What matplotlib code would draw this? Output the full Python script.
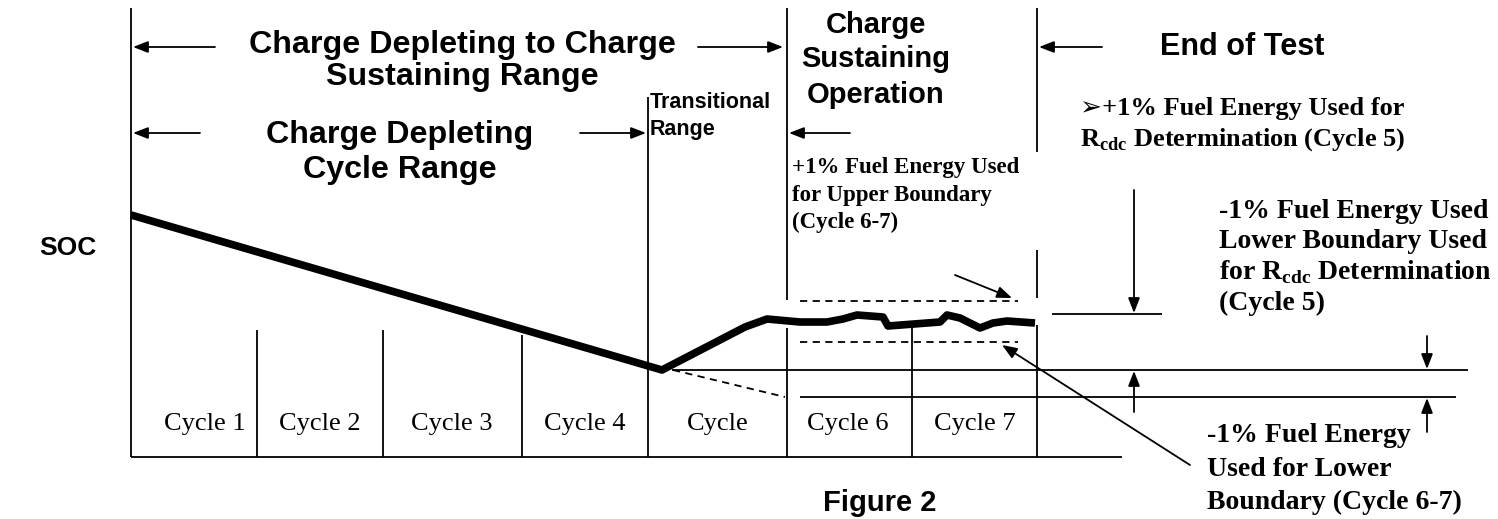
import matplotlib
matplotlib.use("Agg")
import matplotlib.pyplot as plt

# SOC trace (diagram units, y grows downward like the page)
soc_x = [131, 662, 745, 767, 800, 827, 843, 857, 883, 888, 940, 947, 960, 980, 993, 1007, 1035]
soc_y = [215, 370, 327, 319, 322, 322, 319, 315, 317, 326, 322, 315, 318, 328, 323, 321, 323]

cycle_labels = ["Cycle 1", "Cycle 2", "Cycle 3", "Cycle 4", "Cycle", "Cycle 6", "Cycle 7"]
cycle_centers = [205, 320, 452, 585, 718, 848, 975]

SANS = "Liberation Sans"
SERIF = ["Liberation Serif", "DejaVu Sans"]

fig = plt.figure(figsize=(14.98, 5.19), dpi=100)
ax = fig.add_axes([0, 0, 1, 1])
ax.set_xlim(0, 1498)
ax.set_ylim(519, 0)
ax.axis("off")


def vline(x, y0, y1, lw=1.3, **kw):
    ax.plot([x, x], [y0, y1], color="black", lw=lw, solid_capstyle="butt", **kw)


def hline(y, x0, x1, lw=1.3, **kw):
    ax.plot([x0, x1], [y, y], color="black", lw=lw, solid_capstyle="butt", **kw)


def arrow(x0, y0, x1, y1, lw=1.3, head=1.0):
    ax.annotate("", xy=(x1, y1), xytext=(x0, y0),
                arrowprops=dict(arrowstyle="-|>,head_length=%.2f,head_width=%.2f" % (0.9 * head, 0.35 * head),
                                color="black", lw=lw, shrinkA=0, shrinkB=0))


# frame and dividers
vline(131, 8, 457)
hline(457, 131, 1122)
vline(257, 330, 457)
vline(383, 330, 457)
vline(522, 335, 457)
vline(648, 97, 457)
vline(787, 8, 300)
vline(787, 328, 457)
vline(912, 327, 457)
vline(1037, 8, 152)
vline(1037, 250, 298)
vline(1037, 325, 457)

# boundaries
ax.plot([800, 1018], [301, 301], color="black", lw=1.3, ls=(0, (4, 3)))
ax.plot([800, 1018], [342, 342], color="black", lw=1.3, ls=(0, (4, 3)))
ax.plot([673, 785], [370, 397], color="black", lw=1.3, ls=(0, (4, 3)))
hline(370, 672, 1468)
hline(397, 800, 1456)
hline(314, 1052, 1162)

# SOC trace
ax.plot(soc_x, soc_y, color="black", lw=5.5, solid_joinstyle="round", solid_capstyle="butt")

# range arrows
arrow(215, 47, 133, 47)
arrow(698, 47, 783, 47)
arrow(200, 133, 133, 133)
arrow(580, 133, 646, 133)
arrow(850, 133, 789, 133)
arrow(1102, 47, 1039, 47)

# boundary arrows
arrow(1134, 190, 1134, 313)
arrow(1134, 412, 1134, 371)
arrow(1427, 336, 1427, 369)
arrow(1427, 432, 1427, 398)
arrow(955, 275, 1012, 298)
arrow(1190, 465, 1002, 345)

# headings
hd = dict(family=SANS, weight="bold", ha="center", va="center")
ax.text(462, 45, "Charge Depleting to Charge", fontsize=23.2, **hd)
ax.text(462, 77, "Sustaining Range", fontsize=23.2, **hd)
ax.text(400, 135, "Charge Depleting", fontsize=23.2, **hd)
ax.text(400, 170, "Cycle Range", fontsize=23.2, **hd)
ax.text(876, 25, "Charge", fontsize=21, **hd)
ax.text(876, 59, "Sustaining", fontsize=21, **hd)
ax.text(876, 95, "Operation", fontsize=21, **hd)
ax.text(1242, 47, "End of Test", fontsize=22, **hd)
ax.text(650, 102, "Transitional", fontsize=15.5, family=SANS, weight="bold", ha="left", va="center")
ax.text(650, 130, "Range", fontsize=15.5, family=SANS, weight="bold", ha="left", va="center")
ax.text(68, 248, "SOC", fontsize=19, **hd)
ax.text(880, 503, "Figure 2", fontsize=21, **hd)

# serif notes
nt = dict(family=SERIF, weight="bold", ha="left", va="center")
ax.text(1080, 108, "\u27a2+1% Fuel Energy Used for", fontsize=19, **nt)
ax.text(1080, 140, r"R$_\mathregular{cdc}$ Determination (Cycle 5)", fontsize=19, **nt)
ax.text(792, 168, "+1% Fuel Energy Used", fontsize=16.5, **nt)
ax.text(792, 195, "for Upper Boundary", fontsize=16.5, **nt)
ax.text(792, 222, "(Cycle 6-7)", fontsize=16.5, **nt)
ax.text(1219, 211, "-1% Fuel Energy Used", fontsize=20, **nt)
ax.text(1219, 241, "Lower Boundary Used", fontsize=20, **nt)
ax.text(1219, 272, r"for R$_\mathregular{cdc}$ Determination", fontsize=20, **nt)
ax.text(1219, 303, "(Cycle 5)", fontsize=20, **nt)
ax.text(1207, 436, "-1% Fuel Energy", fontsize=20, **nt)
ax.text(1207, 470, "Used for Lower", fontsize=20, **nt)
ax.text(1207, 502, "Boundary (Cycle 6-7)", fontsize=20, **nt)

for lab, cx in zip(cycle_labels, cycle_centers):
    ax.text(cx, 424, lab, fontsize=19, family="Liberation Serif", ha="center", va="center")

fig.savefig("out.png", dpi=100)
